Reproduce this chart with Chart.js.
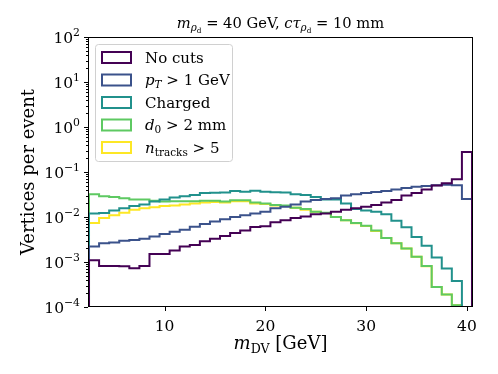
<!DOCTYPE html>
<html>
<head>
<meta charset="utf-8">
<script src="https://cdn.jsdelivr.net/npm/chart.js@4.4.0/dist/chart.umd.min.js"></script>
<style>
  html, body { margin: 0; padding: 0; background: #fff; }
  #wrap { width: 498px; height: 374px; }
</style>
</head>
<body>
<div id="wrap"><canvas id="histCanvas" width="498" height="374"></canvas></div>
<script>
// bins are 1 GeV wide, first edge at 2.5 GeV
const binStart = 2.5;
const binWidth = 1;

const noCuts = [1.1e-3, 8.1e-4, 8.1e-4, 8.0e-4, 7.3e-4, 8.1e-4, 1.5e-3, 1.5e-3, 1.8e-3, 2.2e-3,
  2.4e-3, 2.9e-3, 3.3e-3, 3.8e-3, 4.4e-3, 5.0e-3, 6.0e-3, 6.2e-3, 7.6e-3, 8.5e-3,
  9.5e-3, 1.02e-2, 1.15e-2, 1.2e-2, 1.3e-2, 1.44e-2, 1.56e-2, 1.7e-2, 1.85e-2, 2.1e-2,
  2.4e-2, 3.0e-2, 3.4e-2, 4.1e-2, 5.0e-2, 5.6e-2, 6.9e-2, 0.28];
const ptCut = [2.2e-3, 2.6e-3, 2.7e-3, 2.95e-3, 3.1e-3, 3.3e-3, 3.7e-3, 4.2e-3, 4.7e-3, 5.2e-3,
  6.1e-3, 7.0e-3, 7.9e-3, 8.9e-3, 1.0e-2, 1.1e-2, 1.2e-2, 1.3e-2, 1.56e-2, 1.7e-2,
  1.9e-2, 2.2e-2, 2.4e-2, 2.5e-2, 2.6e-2, 3.0e-2, 3.2e-2, 3.4e-2, 3.6e-2, 3.8e-2,
  4.1e-2, 4.4e-2, 4.7e-2, 4.9e-2, 5.1e-2, 5.2e-2, 5.1e-2, 2.5e-2];
const charged = [1.2e-2, 1.22e-2, 1.4e-2, 1.56e-2, 1.75e-2, 1.9e-2, 2.2e-2, 2.45e-2, 2.7e-2, 2.9e-2,
  3.1e-2, 3.4e-2, 3.45e-2, 3.5e-2, 3.8e-2, 3.65e-2, 3.85e-2, 3.65e-2, 3.55e-2, 3.5e-2,
  3.2e-2, 3.1e-2, 2.8e-2, 2.45e-2, 2.45e-2, 2.0e-2, 1.5e-2, 1.4e-2, 1.3e-2, 1.15e-2,
  8.3e-3, 5.9e-3, 3.6e-3, 2.3e-3, 1.26e-3, 7.2e-4, 3.8e-4, 0];
const d0Cut = [3.2e-2, 2.9e-2, 2.8e-2, 2.6e-2, 2.45e-2, 2.45e-2, 2.3e-2, 2.2e-2, 2.25e-2, 2.25e-2,
  2.25e-2, 2.3e-2, 2.3e-2, 2.2e-2, 2.35e-2, 2.35e-2, 2.1e-2, 2.0e-2, 1.85e-2, 1.8e-2,
  1.6e-2, 1.5e-2, 1.3e-2, 1.25e-2, 1.0e-2, 8.5e-3, 7.4e-3, 6.4e-3, 5.0e-3, 3.4e-3,
  2.6e-3, 2.0e-3, 1.3e-3, 8.1e-4, 2.8e-4, 1.9e-4, 1.1e-4, 0];
const ntrkCut = [7.4e-3, 9.5e-3, 1.1e-2, 1.25e-2, 1.44e-2, 1.56e-2, 1.65e-2, 1.75e-2, 1.8e-2, 1.9e-2,
  2.0e-2, 2.1e-2, 2.15e-2, 2.1e-2, 2.25e-2, 2.25e-2, 2.0e-2, 1.95e-2, 1.8e-2, 1.75e-2,
  1.6e-2, 1.45e-2, 1.3e-2, 1.22e-2, 1.0e-2, 8.5e-3, 7.3e-3, 6.3e-3, 4.9e-3, 3.4e-3,
  2.6e-3, 2.0e-3, 1.3e-3, 8.0e-4, 2.8e-4, 1.9e-4, 1.1e-4, 0];

const seriesColors = ['#440154', '#3b528b', '#21918c', '#5ec962', '#fde725'];
const xTicks = [10, 20, 30, 40];
const yDecades = [-4, -3, -2, -1, 0, 1, 2];

// rich text runs: [text, italic, level]  level 0 = normal, 1 = subscript, 2 = sub-sub, -1 = superscript
const legendLabels = [
  [['No cuts', 0, 0]],
  [['p', 1, 0], ['T', 1, 1], [' > 1 GeV', 0, 0]],
  [['Charged', 0, 0]],
  [['d', 1, 0], ['0', 0, 1], [' > 2 mm', 0, 0]],
  [['n', 1, 0], ['tracks', 0, 1], [' > 5', 0, 0]]
];
const titleRuns = [['m', 1, 0], ['ρ', 1, 1], ['d', 0, 2], [' = 40 GeV, ', 0, 0],
  ['cτ', 1, 0], ['ρ', 1, 1], ['d', 0, 2], [' = 10 mm', 0, 0]];
const xLabelRuns = [['m', 1, 0], ['DV', 0, 1], [' [GeV]', 0, 0]];
const yLabel = 'Vertices per event';

const FONT = '"DejaVu Serif", serif';
const FLOOR = 1e-9; // empty bins fall off the log axis

function stepPoints(vals) {
  const pts = [{ x: binStart, y: FLOOR }];
  vals.forEach((v, i) => pts.push({ x: binStart + i * binWidth, y: v > 0 ? v : FLOOR }));
  const end = binStart + vals.length * binWidth;
  const last = vals[vals.length - 1];
  pts.push({ x: end, y: last > 0 ? last : FLOOR });
  pts.push({ x: end, y: FLOOR });
  return pts;
}

const scaleOf = [1, 0.7, 0.5];
function runFont(r, size) {
  const s = size * (r[2] === -1 ? 0.7 : scaleOf[r[2]]);
  return (r[1] ? 'italic ' : '') + s + 'px ' + FONT;
}
function runShift(r, size) {
  if (r[2] === 1) return size * 0.2;
  if (r[2] === 2) return size * 0.33;
  if (r[2] === -1) return -size * 0.42;
  return 0;
}
function richWidth(ctx, runs, size) {
  let w = 0;
  runs.forEach(r => { ctx.font = runFont(r, size); w += ctx.measureText(r[0]).width; });
  return w;
}
function drawRich(ctx, runs, x, y, size, align) {
  const w = richWidth(ctx, runs, size);
  let cx = align === 'center' ? x - w / 2 : align === 'right' ? x - w : x;
  ctx.textAlign = 'left';
  runs.forEach(r => {
    ctx.font = runFont(r, size);
    ctx.fillText(r[0], cx, y + runShift(r, size));
    cx += ctx.measureText(r[0]).width;
  });
}

const decor = {
  id: 'decor',
  afterDraw(chart) {
    const { ctx, chartArea: a } = chart;
    const xs = chart.scales.x, ys = chart.scales.y;
    ctx.save();
    ctx.fillStyle = '#000';
    ctx.strokeStyle = '#000';
    ctx.lineWidth = 1;
    ctx.textBaseline = 'alphabetic';

    // frame
    ctx.strokeRect(a.left + 0.5, a.top + 0.5, a.right - a.left - 1, a.bottom - a.top - 1);

    // x ticks
    ctx.beginPath();
    xTicks.forEach(t => {
      const px = Math.round(xs.getPixelForValue(t)) + 0.5;
      ctx.moveTo(px, a.bottom); ctx.lineTo(px, a.bottom + 4);
    });
    // y ticks, major and minor
    yDecades.forEach(d => {
      const py = Math.round(ys.getPixelForValue(Math.pow(10, d))) + 0.5;
      ctx.moveTo(a.left, py); ctx.lineTo(a.left - 4, py);
      if (d < 2) {
        for (let m = 2; m <= 9; m++) {
          const pm = Math.round(ys.getPixelForValue(m * Math.pow(10, d))) + 0.5;
          ctx.moveTo(a.left, pm); ctx.lineTo(a.left - 2, pm);
        }
      }
    });
    ctx.stroke();

    // tick labels
    xTicks.forEach(t => {
      drawRich(ctx, [[String(t), 0, 0]], xs.getPixelForValue(t), a.bottom + 24, 15.5, 'center');
    });
    yDecades.forEach(d => {
      const exp = d < 0 ? '\u2212' + Math.abs(d) : String(d);
      drawRich(ctx, [['10', 0, 0], [exp, 0, -1]], a.left - 8, ys.getPixelForValue(Math.pow(10, d)) + 6, 15.5, 'right');
    });

    // axis titles
    drawRich(ctx, xLabelRuns, (a.left + a.right) / 2, 349, 18, 'center');
    ctx.save();
    ctx.translate(34, (a.top + a.bottom) / 2);
    ctx.rotate(-Math.PI / 2);
    drawRich(ctx, [[yLabel, 0, 0]], 0, 0, 18, 'center');
    ctx.restore();

    // title
    drawRich(ctx, titleRuns, (a.left + a.right) / 2, 28, 14.7, 'center');

    // legend
    ctx.beginPath();
    ctx.roundRect(95.5, 44.5, 137, 117, 3);
    ctx.fillStyle = 'rgba(255,255,255,0.8)';
    ctx.fill();
    ctx.strokeStyle = '#d0d0d0';
    ctx.stroke();
    legendLabels.forEach((runs, i) => {
      const cy = 57.5 + i * 22.5;
      ctx.strokeStyle = seriesColors[i];
      ctx.lineWidth = 2;
      ctx.strokeRect(102, cy - 5.5, 29, 11);
      ctx.fillStyle = '#000';
      drawRich(ctx, runs, 145, cy + 5, 15, 'left');
    });
    ctx.restore();
  }
};

const allSeries = [noCuts, ptCut, charged, d0Cut, ntrkCut];

new Chart(document.getElementById('histCanvas').getContext('2d'), {
  type: 'line',
  data: {
    datasets: allSeries.map((vals, i) => ({
      data: stepPoints(vals),
      borderColor: seriesColors[i],
      borderWidth: 2,
      stepped: true,
      pointRadius: 0,
      tension: 0,
      fill: false
    }))
  },
  options: {
    responsive: false,
    animation: false,
    events: [],
    layout: { padding: { left: 0, right: 25, top: 37, bottom: 0 } },
    plugins: { legend: { display: false }, tooltip: { enabled: false } },
    scales: {
      x: {
        type: 'linear', min: 2.4, max: 40.6,
        grid: { display: false }, border: { display: false },
        ticks: { display: false },
        afterFit: s => { s.height = 67; }
      },
      y: {
        type: 'logarithmic', min: 1e-4, max: 1e2,
        grid: { display: false }, border: { display: false },
        ticks: { display: false },
        afterFit: s => { s.width = 88; }
      }
    }
  },
  plugins: [decor]
});
</script>
</body>
</html>
